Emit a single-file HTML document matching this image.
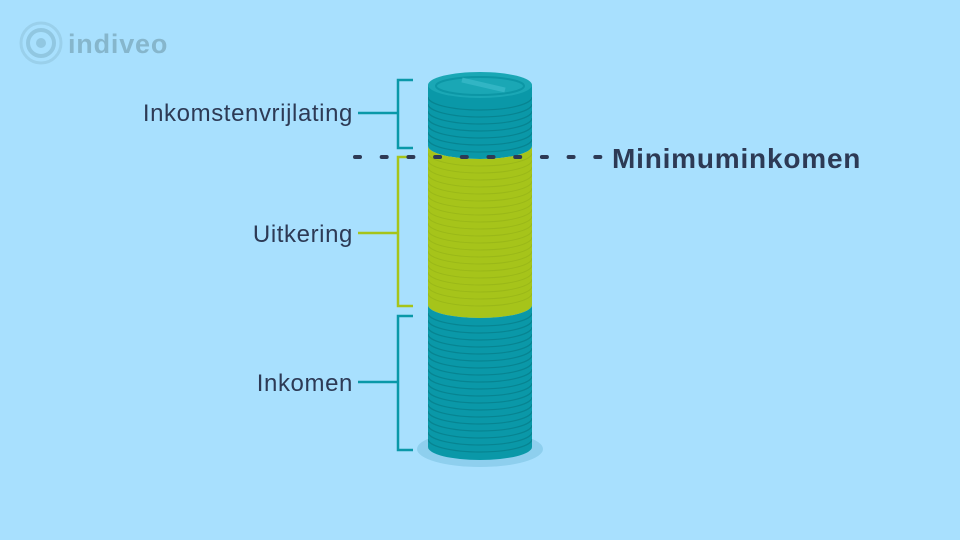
<!DOCTYPE html>
<html><head><style>
body{margin:0;width:960px;height:540px;background:#a8e0fe;overflow:hidden}
svg{display:block}
text{font-family:"Liberation Sans",sans-serif}
</style></head><body>
<svg width="960" height="540" viewBox="0 0 960 540">
<defs>
<clipPath id="teal1"><path d="M428 85 L532 85 L532 146 A52 13 0 0 1 428 146 Z"/></clipPath>
<clipPath id="green"><path d="M428 146 A52 13 0 0 0 532 146 L532 305 A52 13 0 0 1 428 305 Z"/></clipPath>
<clipPath id="teal2"><path d="M428 305 A52 13 0 0 0 532 305 L532 447 A52 13 0 0 1 428 447 Z"/></clipPath>
</defs>
<!-- logo -->
<g opacity="0.55">
<circle cx="41" cy="43" r="20" fill="none" stroke="#8fc4dc" stroke-width="3"/>
<circle cx="41" cy="43" r="13" fill="none" stroke="#7fb3cb" stroke-width="4"/>
<circle cx="41" cy="43" r="5" fill="#7fb3cb"/>
</g>
<text x="68" y="53" font-size="27" font-weight="bold" fill="#86b6cc" letter-spacing="0.8">indiveo</text>
<!-- shadow -->
<ellipse cx="480" cy="449" rx="63" ry="18" fill="#8ecfee"/>
<!-- teal top -->
<g clip-path="url(#teal1)">
<rect x="428" y="80" width="104" height="90" fill="#0a98a8"/>
<g fill="none" stroke="#0784920" stroke-width="1.2">
</g>
<g fill="none" stroke="#078491" stroke-width="1.2">
<path d="M428 97 A52 13 0 0 0 532 97"/><path d="M428 104 A52 13 0 0 0 532 104"/><path d="M428 111 A52 13 0 0 0 532 111"/><path d="M428 118 A52 13 0 0 0 532 118"/><path d="M428 125 A52 13 0 0 0 532 125"/><path d="M428 132 A52 13 0 0 0 532 132"/><path d="M428 139 A52 13 0 0 0 532 139"/>
</g></g>
<ellipse cx="480" cy="85" rx="52" ry="13" fill="#1aa7b5"/>
<ellipse cx="480" cy="86" rx="44" ry="9" fill="none" stroke="#0c96a5" stroke-width="2"/>
<path d="M462 80 L505 90" stroke="#3cbccb" stroke-width="5" opacity="0.7"/>
<!-- green -->
<g clip-path="url(#green)">
<rect x="428" y="130" width="104" height="200" fill="#a6c41a"/>
<g fill="none" stroke="#9ab818" stroke-width="1">
<path d="M428 153 A52 13 0 0 0 532 153"/><path d="M428 160 A52 13 0 0 0 532 160"/><path d="M428 167 A52 13 0 0 0 532 167"/><path d="M428 174 A52 13 0 0 0 532 174"/><path d="M428 181 A52 13 0 0 0 532 181"/><path d="M428 188 A52 13 0 0 0 532 188"/><path d="M428 195 A52 13 0 0 0 532 195"/><path d="M428 202 A52 13 0 0 0 532 202"/><path d="M428 209 A52 13 0 0 0 532 209"/><path d="M428 216 A52 13 0 0 0 532 216"/><path d="M428 223 A52 13 0 0 0 532 223"/><path d="M428 230 A52 13 0 0 0 532 230"/><path d="M428 237 A52 13 0 0 0 532 237"/><path d="M428 244 A52 13 0 0 0 532 244"/><path d="M428 251 A52 13 0 0 0 532 251"/><path d="M428 258 A52 13 0 0 0 532 258"/><path d="M428 265 A52 13 0 0 0 532 265"/><path d="M428 272 A52 13 0 0 0 532 272"/><path d="M428 279 A52 13 0 0 0 532 279"/><path d="M428 286 A52 13 0 0 0 532 286"/><path d="M428 293 A52 13 0 0 0 532 293"/>
</g></g>
<!-- teal bottom -->
<g clip-path="url(#teal2)">
<rect x="428" y="290" width="104" height="180" fill="#0a98a8"/>
<g fill="none" stroke="#078491" stroke-width="1.2">
<path d="M428 313 A52 13 0 0 0 532 313"/><path d="M428 320 A52 13 0 0 0 532 320"/><path d="M428 327 A52 13 0 0 0 532 327"/><path d="M428 334 A52 13 0 0 0 532 334"/><path d="M428 341 A52 13 0 0 0 532 341"/><path d="M428 348 A52 13 0 0 0 532 348"/><path d="M428 355 A52 13 0 0 0 532 355"/><path d="M428 362 A52 13 0 0 0 532 362"/><path d="M428 369 A52 13 0 0 0 532 369"/><path d="M428 376 A52 13 0 0 0 532 376"/><path d="M428 383 A52 13 0 0 0 532 383"/><path d="M428 390 A52 13 0 0 0 532 390"/><path d="M428 397 A52 13 0 0 0 532 397"/><path d="M428 404 A52 13 0 0 0 532 404"/><path d="M428 411 A52 13 0 0 0 532 411"/><path d="M428 418 A52 13 0 0 0 532 418"/><path d="M428 425 A52 13 0 0 0 532 425"/><path d="M428 432 A52 13 0 0 0 532 432"/><path d="M428 439 A52 13 0 0 0 532 439"/>
</g></g>
<!-- brackets -->
<g fill="none" stroke-width="2.5">
<path d="M413 80 H398 V148 H413 M398 113 H358" stroke="#0a98a8"/>
<path d="M413 157 H398 V306 H413 M398 233 H358" stroke="#a6c41a"/>
<path d="M413 316 H398 V450 H413 M398 382 H358" stroke="#0a98a8"/>
</g>
<!-- dashes -->
<line x1="355" y1="157" x2="602" y2="157" stroke="#2d3a55" stroke-width="4" stroke-linecap="round" stroke-dasharray="5 21.7"/>
<g fill="#2d3a55" font-size="24" text-anchor="end" letter-spacing="0.6">
<text x="353" y="121">Inkomstenvrijlating</text>
<text x="353" y="242">Uitkering</text>
<text x="353" y="391">Inkomen</text>
</g>
<text x="612" y="168" font-size="28" font-weight="bold" fill="#2d3a55" letter-spacing="0.8">Minimuminkomen</text>
</svg>
</body></html>
